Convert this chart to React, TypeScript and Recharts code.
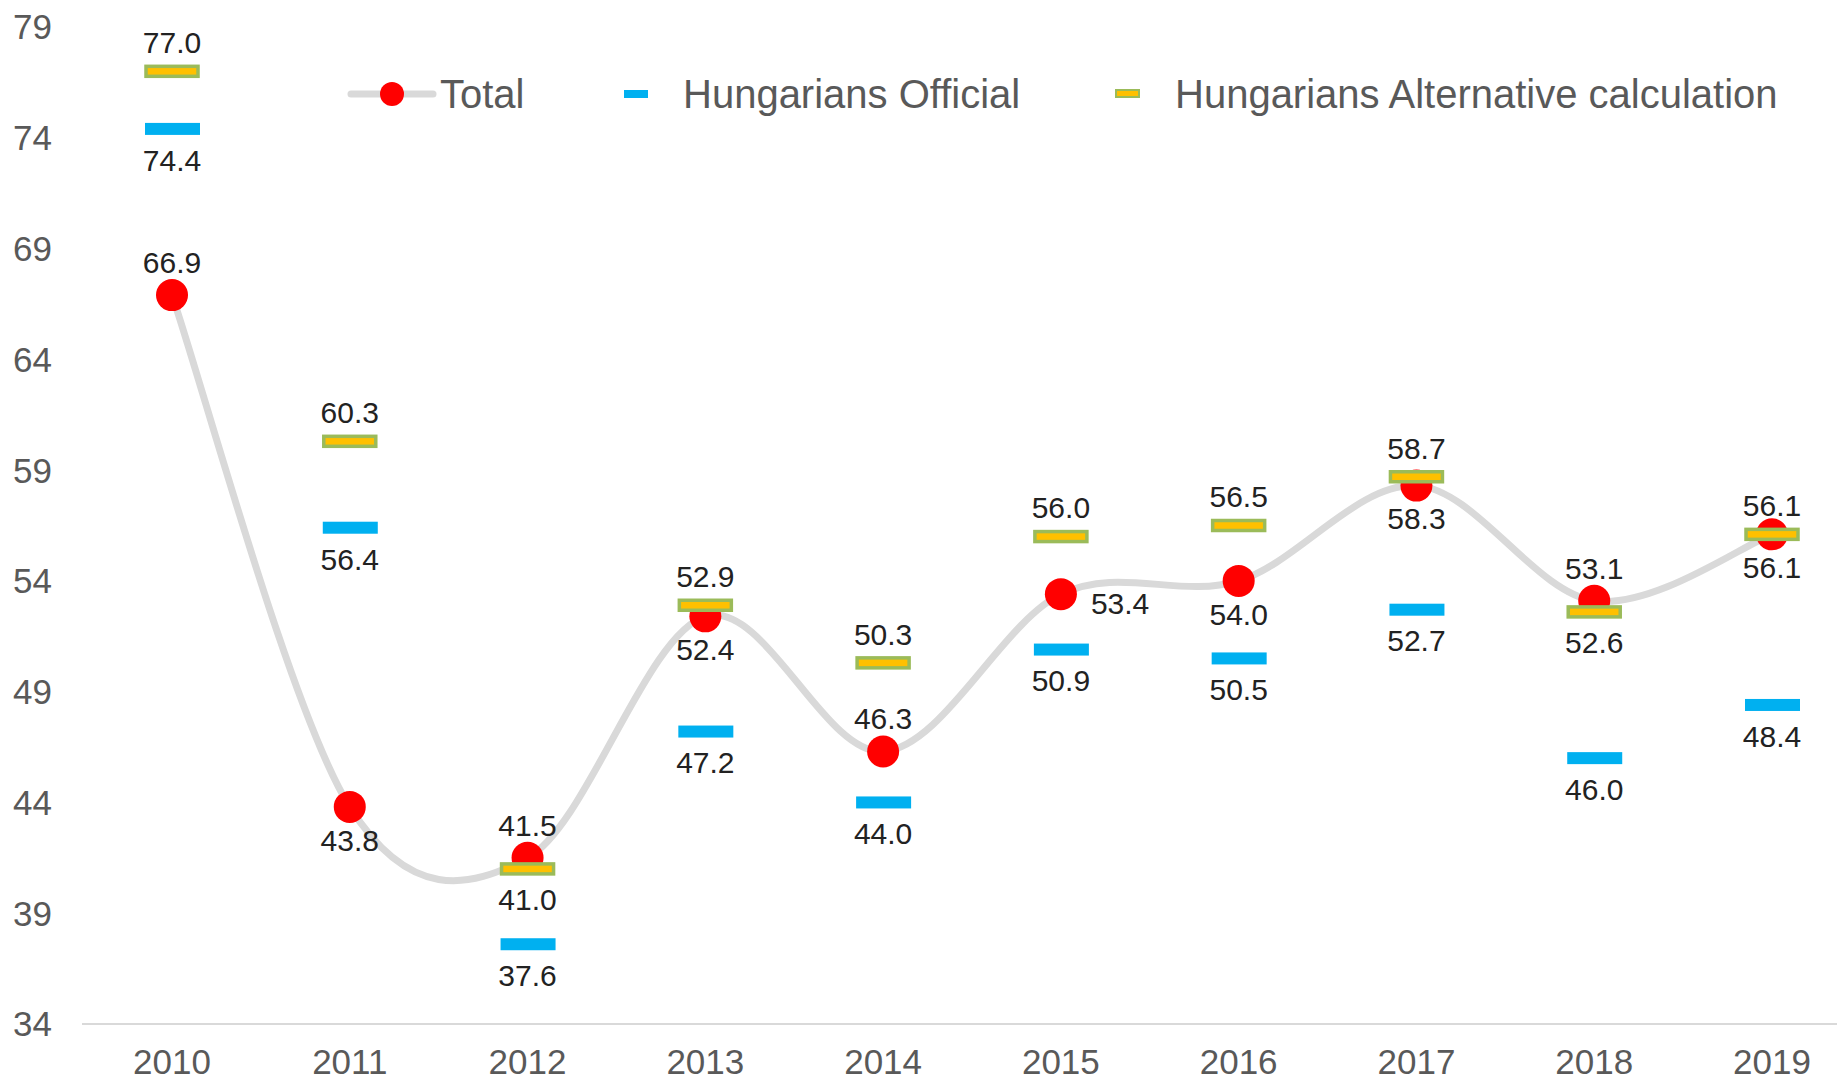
import React from "react";
import { LineChart, Line, XAxis, YAxis, Legend, LabelList } from "recharts";

const years = ["2010", "2011", "2012", "2013", "2014", "2015", "2016", "2017", "2018", "2019"];
const total = [66.9, 43.8, 41.5, 52.4, 46.3, 53.4, 54.0, 58.3, 53.1, 56.1];
const official = [74.4, 56.4, 37.6, 47.2, 44.0, 50.9, 50.5, 52.7, 46.0, 48.4];
const alternative = [77.0, 60.3, 41.0, 52.9, 50.3, 56.0, 56.5, 58.7, 52.6, 56.1];
const yTicks = [34, 39, 44, 49, 54, 59, 64, 69, 74, 79];

// where each value label sits relative to its mark
const totalSide = ["top", "bottom", "top", "bottom", "top", "right", "bottom", "bottom", "top", "bottom"];
const altSide = ["top", "top", "bottom", "top", "top", "top", "top", "top", "bottom", "top"];

const data = years.map((year, i) => ({
  year,
  total: total[i],
  official: official[i],
  alternative: alternative[i],
}));

const FONT = '"Liberation Sans", Arial, sans-serif';

// Excel-style smoothed line (Catmull-Rom through every point)
const excelSmooth = (context: any) => {
  let pts: number[][] = [];
  return {
    areaStart() {},
    areaEnd() {},
    lineStart() {
      pts = [];
    },
    point(x: number, y: number) {
      pts.push([+x, +y]);
    },
    lineEnd() {
      const n = pts.length;
      if (!n) return;
      context.moveTo(pts[0][0], pts[0][1]);
      for (let i = 0; i < n - 1; i++) {
        const p0 = pts[i - 1] || pts[i];
        const p1 = pts[i];
        const p2 = pts[i + 1];
        const p3 = pts[i + 2] || p2;
        context.bezierCurveTo(
          p1[0] + (p2[0] - p0[0]) / 6,
          p1[1] + (p2[1] - p0[1]) / 6,
          p2[0] - (p3[0] - p1[0]) / 6,
          p2[1] - (p3[1] - p1[1]) / 6,
          p2[0],
          p2[1]
        );
      }
    },
  };
};

const makeLabel = (sides: string[], up: number, down: number) => (props: any) => {
  const { x, y, value, index } = props;
  const side = sides[index];
  let tx = x;
  let ty = y;
  let anchor = "middle";
  if (side === "top") ty = y - up;
  else if (side === "bottom") ty = y + down;
  else {
    tx = x + 30;
    ty = y + 9;
    anchor = "start";
  }
  return (
    <text x={tx} y={ty} dy="0.36em" textAnchor={anchor} fontSize={30} fontFamily={FONT} fill="#222">
      {Number(value).toFixed(1)}
    </text>
  );
};

const RedDot = (props: any) => {
  const { cx, cy } = props;
  return <circle cx={cx} cy={cy} r={16} fill="#ff0000" />;
};

const BlueDash = (props: any) => {
  const { cx, cy } = props;
  return <rect x={cx - 27} y={cy - 6} width={55} height={12} fill="#00b0f0" />;
};

const YellowDash = (props: any) => {
  const { cx, cy } = props;
  return (
    <rect x={cx - 26} y={cy - 5} width={52} height={10} fill="#ffc000" stroke="#9bbb59" strokeWidth={3.5} />
  );
};

const LegendContent = () => (
  <svg width={1837} height={60} style={{ display: "block" }}>
    <line x1={351} x2={433} y1={30} y2={30} stroke="#d9d9d9" strokeWidth={7} strokeLinecap="round" />
    <circle cx={392} cy={30} r={12} fill="#ff0000" />
    <text x={440} y={30} dy="0.36em" fontSize={40} fontFamily={FONT} fill="#595959">
      Total
    </text>
    <rect x={624} y={26} width={24} height={8} fill="#00b0f0" />
    <text x={683} y={30} dy="0.36em" fontSize={40} fontFamily={FONT} fill="#595959">
      Hungarians Official
    </text>
    <rect x={1116} y={26} width={23} height={7} fill="#ffc000" stroke="#9bbb59" strokeWidth={2} />
    <text x={1175} y={30} dy="0.36em" fontSize={40} fontFamily={FONT} fill="#595959">
      Hungarians Alternative calculation
    </text>
  </svg>
);

export default function App() {
  return (
    <div style={{ position: "absolute", left: 0, top: 0, width: 1837, height: 1082, background: "#fff" }}>
      <LineChart width={1837} height={1082} data={data} margin={{ top: 27, right: 0, bottom: 0, left: 0 }}>
        <XAxis
          dataKey="year"
          padding={{ left: 90, right: 65 }}
          height={58}
          tickSize={0}
          tickMargin={25}
          axisLine={{ stroke: "#d9d9d9", strokeWidth: 2 }}
          tickLine={false}
          tick={{ fill: "#595959", fontSize: 35, fontFamily: FONT }}
        />
        <YAxis
          domain={[34, 79]}
          ticks={yTicks}
          width={82}
          tickSize={0}
          tickMargin={30}
          axisLine={false}
          tickLine={false}
          tick={{ fill: "#595959", fontSize: 35, fontFamily: FONT }}
        />
        <Legend
          layout="horizontal"
          verticalAlign="middle"
          align="center"
          content={<LegendContent />}
          wrapperStyle={{ left: 0, top: 64, width: 1837, height: 60 }}
        />
        <Line
          dataKey="total"
          name="Total"
          type={excelSmooth as any}
          stroke="#d9d9d9"
          strokeWidth={7}
          dot={<RedDot />}
          activeDot={false}
          isAnimationActive={false}
        >
          <LabelList dataKey="total" content={makeLabel(totalSide, 33, 33)} />
        </Line>
        <Line
          dataKey="official"
          name="Hungarians Official"
          stroke="none"
          dot={<BlueDash />}
          activeDot={false}
          isAnimationActive={false}
        >
          <LabelList dataKey="official" content={makeLabel(official.map(() => "bottom"), 30, 31)} />
        </Line>
        <Line
          dataKey="alternative"
          name="Hungarians Alternative calculation"
          stroke="none"
          dot={<YellowDash />}
          activeDot={false}
          isAnimationActive={false}
        >
          <LabelList dataKey="alternative" content={makeLabel(altSide, 29, 30)} />
        </Line>
      </LineChart>
    </div>
  );
}
